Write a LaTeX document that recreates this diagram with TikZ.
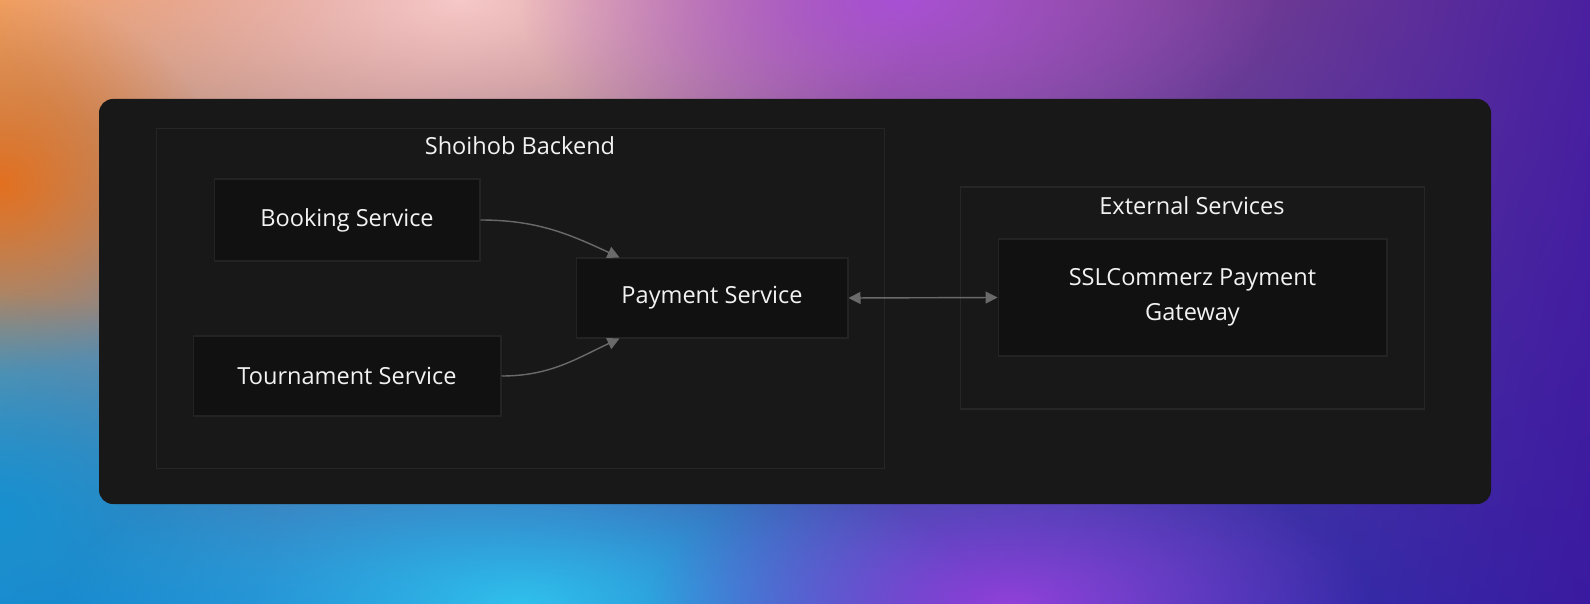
\documentclass[tikz,border=0pt]{standalone}
\usepackage{fontspec}
\setmainfont{Open Sans}
\usetikzlibrary{positioning,arrows.meta,calc,fadings,shadings}
\usepackage{xcolor}

\definecolor{panelbg}{HTML}{181818}
\definecolor{groupline}{HTML}{262626}
\definecolor{boxbg}{HTML}{111111}
\definecolor{boxline}{HTML}{232323}
\definecolor{labeltext}{HTML}{F2F2F2}
\definecolor{linkgray}{HTML}{6A6A6A}
% background wash colours
\definecolor{washTL}{HTML}{F2A060}
\definecolor{washTR}{HTML}{4A20A0}
\definecolor{washBL}{HTML}{1888D0}
\definecolor{washBR}{HTML}{3A1AA0}
\definecolor{washPink}{HTML}{F6C8C8}
\definecolor{washViolet}{HTML}{A850D4}
\definecolor{washOrange}{HTML}{E27020}
\definecolor{washBlue}{HTML}{1890D0}
\definecolor{washCyan}{HTML}{30C0EC}
\definecolor{washPurple}{HTML}{9040D8}

\tikzfading[name=softblob, inner color=transparent!0, outer color=transparent!100]

\begin{document}
\begin{tikzpicture}[x=0.02cm,y=0.02cm,
    group/.style={draw=groupline,line width=0.6pt,fill=panelbg,inner sep=0pt},
    svc/.style={draw=boxline,line width=0.6pt,fill=boxbg,inner sep=0pt,minimum height=1.6cm,
      font=\fontsize{13.4}{20}\selectfont,text=labeltext,align=center},
    grouptitle/.style={font=\fontsize{13.4}{20}\selectfont,text=labeltext},
    arrow/.style={-{Triangle[length=0.24cm,width=0.24cm]},linkgray,line width=0.8pt},
    blob/.style={path fading=softblob},
]
% Background wash
\useasboundingbox (0,0) rectangle (1590,603);
\shade[upper left=washTL,upper right=washTR,lower left=washBL,lower right=washBR]
  (0,0) rectangle (1590,603);
\fill[blob,washPink]   (460,603) ellipse (470 and 210);
\fill[blob,washViolet] (900,603) ellipse (380 and 190);
\fill[blob,washOrange] (0,420)   ellipse (220 and 190);
\fill[blob,washBlue]   (0,90)    ellipse (280 and 220);
\fill[blob,washCyan]   (520,0)   ellipse (460 and 170);
\fill[blob,washPurple] (1010,0)  ellipse (360 and 150);

% Panel
\fill[panelbg,rounded corners=0.28cm] (99,99) rectangle (1491,504);

% Groups
\node[group,minimum width=14.58cm,minimum height=6.82cm] (backend) at (520.5,304.5) {};
\node[grouptitle] (backendtitle) at (520,457) {Shoihob Backend};
\node[group,minimum width=9.3cm,minimum height=4.44cm] (external) at (1192.5,305) {};
\node[grouptitle] (externaltitle) at (1192,397) {External Services};

% Services
\node[svc,minimum width=5.32cm,minimum height=1.64cm] (booking)    at (347,383)    {Booking Service};
\node[svc,minimum width=6.16cm]                     (tournament) at (347,227)    {Tournament Service};
\node[svc,minimum width=5.44cm]                     (payment)    at (712,305)    {Payment Service};
\node[svc,minimum width=7.78cm,minimum height=2.34cm] (sslgw)    at (1192.5,305.5) {SSLCommerz Payment\\Gateway};

\coordinate (payin1) at ($(payment.north west)+(44,0)$);
\coordinate (payin2) at ($(payment.south west)+(44,0)$);

% Links
\draw[arrow] (booking.east)    to[out=0,in=155] (payin1);
\draw[arrow] (tournament.east) to[out=0,in=205] (payin2);
\draw[arrow,{Triangle[length=0.24cm,width=0.24cm]}-{Triangle[length=0.24cm,width=0.24cm]}] (payment.east) -- (sslgw.west);
\end{tikzpicture}
\end{document}
